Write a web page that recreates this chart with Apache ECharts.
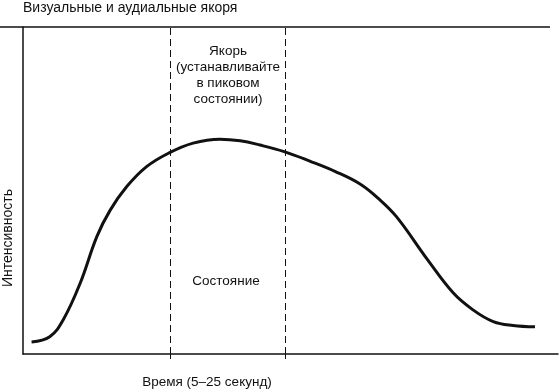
<!DOCTYPE html>
<html><head><meta charset="utf-8">
<script src="https://cdn.jsdelivr.net/npm/echarts@6/dist/echarts.min.js"></script>
<style>html,body{margin:0;padding:0;background:#fff}#c{width:560px;height:389px}</style>
</head><body><div id="c"></div>
<script>
// Time (arbitrary 0–100 scale) and intensity (0–100)
const timeValues = [1.6, 5.0, 7.5, 10.7, 13.8, 16.3, 19.4, 23.1, 27.3, 31.8, 36.8, 40.6, 44.3, 48.8, 53.6, 58.4, 63.0, 66.4, 69.8, 75.5, 80.4, 84.1, 87.9, 91.6, 95.7];
const intensity  = [3.7, 5.3, 10.4, 21.7, 35.9, 44.0, 51.2, 57.3, 61.5, 64.5, 65.7, 65.2, 63.9, 61.9, 59.0, 55.8, 52.0, 47.6, 42.0, 29.1, 18.7, 13.5, 9.9, 8.7, 8.3];
const anchorBounds = [27.5, 49.0];
const titleText = 'Визуальные и аудиальные якоря';
const anchorText = 'Якорь\n(устанавливайте\nв пиковом\nсостоянии)';
const stateText = 'Состояние';
const yName = 'Интенсивность';
const xName = 'Время (5–25 секунд)';

const font = '"Liberation Sans", Arial, sans-serif';
const chart = echarts.init(document.getElementById('c'), null, {renderer: 'canvas'});
chart.setOption({
  animation: false,
  grid: {left: 23, top: 27, right: 2, bottom: 35, containLabel: false},
  xAxis: {
    type: 'value', min: 0, max: 100,
    axisLine: {show: true, lineStyle: {color: '#111', width: 1.5}},
    axisTick: {show: true, customValues: anchorBounds, length: 5, lineStyle: {color: '#111', width: 1}},
    axisLabel: {show: false},
    splitLine: {show: false}
  },
  yAxis: {
    type: 'value', min: 0, max: 100,
    axisLine: {show: true, lineStyle: {color: '#111', width: 1.5}},
    axisTick: {show: false},
    axisLabel: {show: false},
    splitLine: {show: false}
  },
  series: [{
    type: 'line',
    data: timeValues.map((t, i) => [t, intensity[i]]),
    smooth: 0.4,
    symbol: 'none',
    lineStyle: {color: '#111', width: 3},
    markLine: {
      silent: true, symbol: 'none', label: {show: false},
      lineStyle: {color: '#111', width: 1, type: [7, 4]},
      data: anchorBounds.map(v => ({xAxis: v}))
    }
  }],
  graphic: [
    {type: 'line', shape: {x1: 0, y1: 27, x2: 550, y2: 27}, style: {stroke: '#111', lineWidth: 1.5}},
    {type: 'text', left: 23, top: 1, style: {text: titleText, font: '14px ' + font, fill: '#111'}},
    {type: 'text', x: 228, y: 43, style: {text: anchorText, font: '13.5px ' + font, fill: '#111', align: 'center', lineHeight: 16}},
    {type: 'text', x: 226, y: 281, style: {text: stateText, font: '13.5px ' + font, fill: '#111', align: 'center', verticalAlign: 'middle'}},
    {type: 'text', x: 8, y: 238, rotation: Math.PI / 2, style: {text: yName, font: '14px ' + font, fill: '#111', align: 'center', verticalAlign: 'middle'}},
    {type: 'text', x: 207, y: 382, style: {text: xName, font: '13.5px ' + font, fill: '#111', align: 'center', verticalAlign: 'middle'}}
  ]
});
</script></body></html>
